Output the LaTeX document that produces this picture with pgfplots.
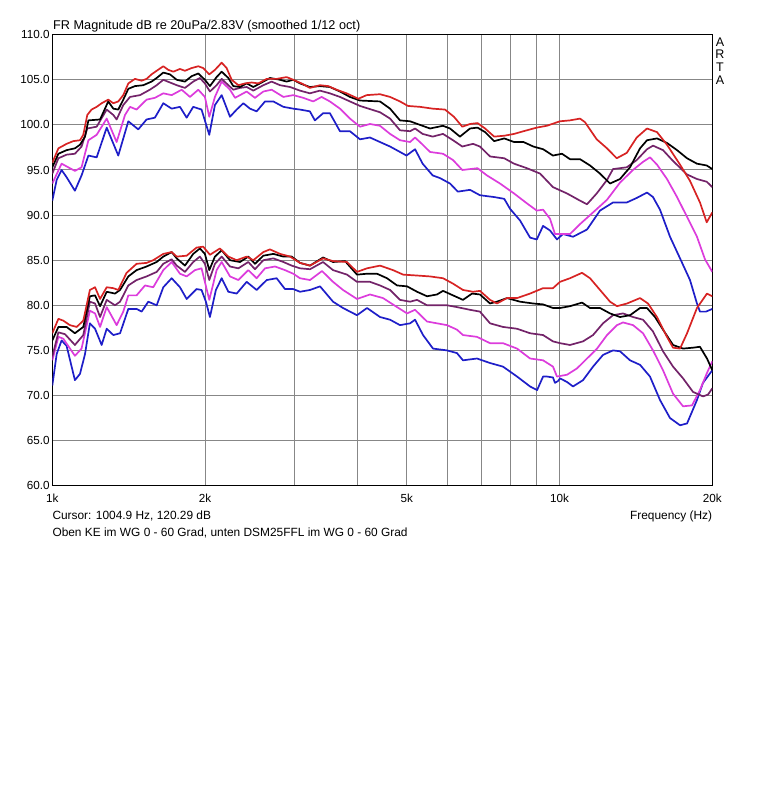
\documentclass[border=0pt]{standalone}
\usepackage{fontspec}
\setmainfont{Liberation Sans}
\usepackage{pgfplots}
\pgfplotsset{compat=1.18}
\definecolor{artared}{RGB}{215,35,35}
\definecolor{artapurple}{RGB}{115,35,105}
\definecolor{artamagenta}{RGB}{220,60,220}
\definecolor{artablue}{RGB}{30,30,200}
\definecolor{gridgray}{RGB}{135,135,135}
\begin{document}
\begin{tikzpicture}
\path[use as bounding box] (0pt,0pt) rectangle (764pt,800pt);
\begin{axis}[
  at={(52.3pt,314.3pt)}, anchor=south west,
  scale only axis, width=660pt, height=451pt,
  xmode=log, xmin=1000, xmax=20000, ymin=60, ymax=110,
  xtick={1000,2000,3000,4000,5000,6000,7000,8000,9000,10000,20000},
  xticklabels={1k,2k,,,5k,,,,,10k,20k},
  ytick={60,65,...,110},
  yticklabels={60.0,65.0,70.0,75.0,80.0,85.0,90.0,95.0,100.0,105.0,110.0},
  grid=major, major grid style={color=gridgray, line width=1pt},
  major tick length=0pt, minor tick length=0pt,
  tick label style={font=\fontsize{11.7}{13}\selectfont},
  xticklabel style={anchor=base, yshift=-17pt},
  yticklabel style={inner sep=2.5pt},
  axis line style={black, line width=0.9pt},
  every axis plot/.append style={line width=1.7pt, line join=round, mark=none},
]
% ---------- upper group (KE) ----------
\addplot[artablue] coordinates {(1000,91.6)(1020,93.9)(1043,95.0)(1067,94.2)(1108,92.7)(1142,94.4)(1178,96.6)(1223,96.4)(1280,99.7)(1349,96.6)(1412,100.4)(1477,99.5)(1534,100.6)(1593,100.8)(1655,102.4)(1719,101.8)(1785,102.0)(1840,100.8)(1896,102.0)(1969,101.7)(2039,98.9)(2092,102.2)(2157,103.3)(2240,100.9)(2309,101.7)(2380,102.4)(2453,101.8)(2528,101.5)(2626,102.6)(2727,102.6)(2854,102.0)(2985,101.8)(3077,101.7)(3219,101.5)(3293,100.5)(3420,101.3)(3525,101.3)(3690,99.3)(3861,99.3)(4041,98.4)(4229,98.6)(4425,98.1)(4632,97.6)(4846,97.0)(4990,96.6)(5188,97.3)(5370,95.7)(5620,94.4)(5811,94.1)(6081,93.5)(6300,92.6)(6659,92.8)(6966,92.2)(7430,92.0)(7780,91.8)(7985,90.7)(8356,89.4)(8745,87.5)(9015,87.3)(9276,88.8)(9572,88.3)(9881,87.3)(10153,87.9)(10630,87.6)(11324,88.4)(12012,90.5)(12742,91.4)(13563,91.4)(14190,91.9)(14868,92.5)(15278,92.0)(15771,90.6)(16505,87.6)(17274,85.2)(18072,82.8)(18655,80.2)(18910,79.3)(19434,79.3)(20000,79.6)};
\addplot[artamagenta] coordinates {(1000,93.5)(1043,95.7)(1075,95.3)(1108,94.9)(1142,95.3)(1178,98.3)(1223,98.9)(1280,100.7)(1339,98.1)(1391,101.1)(1423,102.0)(1466,101.7)(1534,102.8)(1593,103.0)(1655,103.5)(1719,103.3)(1799,103.9)(1868,103.1)(1940,103.9)(1999,103.1)(2039,100.9)(2092,103.1)(2157,104.8)(2240,103.9)(2292,103.0)(2344,103.3)(2416,103.7)(2509,103.0)(2606,103.7)(2706,103.9)(2854,103.1)(2985,103.3)(3124,103.0)(3268,102.6)(3395,103.1)(3525,102.6)(3690,101.8)(3861,100.7)(4041,99.8)(4229,100.1)(4425,99.9)(4632,99.0)(4846,98.3)(5072,98.1)(5188,98.6)(5350,97.9)(5553,97.0)(5890,96.8)(6164,96.1)(6430,95.0)(6890,95.2)(7190,94.4)(7630,93.5)(8130,92.4)(8620,91.3)(9015,90.5)(9276,90.6)(9572,89.6)(9791,87.9)(10108,87.9)(10481,87.9)(10970,89.0)(11640,90.3)(12400,91.7)(13153,93.6)(13950,95.0)(14600,95.9)(15071,96.4)(15557,95.6)(16280,94.0)(17040,92.0)(17832,89.8)(18655,87.6)(19345,85.1)(20000,83.7)};
\addplot[artapurple] coordinates {(1000,94.6)(1028,96.3)(1067,96.7)(1108,96.8)(1142,97.6)(1172,99.6)(1223,99.8)(1280,101.7)(1319,101.1)(1339,100.6)(1380,102.2)(1423,103.1)(1489,103.3)(1557,103.9)(1606,104.4)(1655,105.0)(1706,104.7)(1759,104.4)(1826,104.1)(1896,104.8)(1954,105.2)(1999,104.6)(2045,103.7)(2108,104.4)(2157,105.1)(2223,104.4)(2274,103.9)(2344,104.1)(2416,104.2)(2490,103.8)(2606,104.4)(2706,104.8)(2811,104.4)(2942,104.2)(3077,103.8)(3219,103.5)(3369,103.8)(3525,103.5)(3690,103.1)(3861,102.6)(4041,102.1)(4425,101.4)(4632,100.7)(4846,99.4)(5072,99.3)(5188,99.6)(5370,99.0)(5620,98.7)(5890,99.0)(6164,98.3)(6430,97.6)(6750,97.9)(6966,97.6)(7292,96.5)(7780,96.3)(8130,95.7)(8620,95.2)(9151,94.6)(9703,93.1)(10340,92.4)(10970,91.6)(11324,91.2)(11833,92.4)(12400,93.9)(12742,95.1)(13563,95.3)(14190,96.1)(14868,97.3)(15278,97.7)(15987,97.2)(16733,96.0)(17832,94.5)(18655,94.0)(19497,93.7)(20000,93.1)};
\addplot[black] coordinates {(1000,95.3)(1028,96.8)(1067,97.2)(1108,97.4)(1134,97.8)(1160,98.7)(1178,100.5)(1242,100.6)(1289,102.6)(1319,101.8)(1349,101.7)(1380,102.8)(1412,104.0)(1455,104.3)(1511,104.4)(1569,104.8)(1606,105.2)(1655,105.8)(1706,105.6)(1759,105.0)(1826,104.8)(1882,105.4)(1940,105.7)(1999,105.0)(2045,104.3)(2108,105.3)(2157,105.9)(2223,105.2)(2274,104.3)(2344,104.2)(2416,104.6)(2490,104.2)(2567,104.6)(2685,105.2)(2811,105.0)(2897,104.8)(2985,105.0)(3077,104.6)(3219,104.2)(3369,104.3)(3525,104.2)(3690,103.7)(3861,103.1)(4041,102.7)(4425,102.6)(4632,101.8)(4846,100.5)(5072,100.4)(5307,100.0)(5553,99.6)(5890,99.9)(6081,99.6)(6361,98.7)(6659,99.6)(6890,99.7)(7130,99.2)(7430,98.2)(7780,98.5)(8130,98.1)(8490,98.1)(8875,97.6)(9280,97.3)(9700,96.6)(10108,96.8)(10481,96.2)(10970,96.2)(11480,95.5)(12012,94.6)(12570,93.5)(13153,94.0)(13765,95.3)(14405,97.4)(14870,98.3)(15560,98.5)(16280,98.0)(17040,97.2)(17830,96.3)(18650,95.7)(19500,95.5)(20000,95.1)};
\addplot[artared] coordinates {(1000,95.8)(1028,97.4)(1067,97.9)(1100,98.2)(1134,98.3)(1151,98.9)(1172,101.1)(1195,101.7)(1223,102.0)(1251,102.4)(1289,102.8)(1319,102.4)(1349,102.6)(1380,103.3)(1412,104.6)(1455,105.1)(1500,104.9)(1534,105.1)(1569,105.6)(1606,106.0)(1655,106.5)(1693,106.1)(1732,105.9)(1785,106.2)(1826,106.0)(1882,106.3)(1940,106.5)(1984,106.3)(2039,105.6)(2092,106.1)(2157,106.9)(2206,106.3)(2257,105.0)(2327,104.4)(2398,104.6)(2471,104.7)(2547,104.6)(2646,105.1)(2768,105.1)(2897,105.3)(2985,105.0)(3100,104.6)(3219,104.1)(3369,104.4)(3499,104.3)(3634,103.9)(3803,103.5)(4011,102.9)(4165,103.3)(4425,103.4)(4632,103.1)(4846,102.6)(5025,102.1)(5307,102.0)(5620,101.8)(5944,101.7)(6190,100.9)(6430,99.8)(6659,100.1)(6890,100.2)(7130,99.6)(7430,98.7)(7780,98.8)(8130,99.0)(8490,99.3)(9015,99.7)(9432,99.9)(10016,100.4)(10481,100.5)(10970,100.7)(11220,100.3)(11833,98.4)(12400,97.4)(12958,96.3)(13563,96.9)(14190,98.6)(14868,99.6)(15557,99.2)(16280,97.8)(17270,95.6)(18070,93.8)(18910,91.4)(19497,89.2)(20000,90.3)};
% ---------- lower group (DSM25FFL) ----------
\addplot[artablue] coordinates {(1000,71.1)(1020,74.6)(1043,76.1)(1067,75.5)(1108,71.7)(1134,72.4)(1160,74.6)(1186,78.0)(1214,77.4)(1251,75.6)(1280,77.4)(1319,76.7)(1360,76.9)(1412,79.6)(1466,79.6)(1500,79.3)(1546,80.4)(1606,80.0)(1655,82.0)(1719,83.0)(1785,82.0)(1840,80.7)(1925,81.8)(1969,81.7)(2008,80.4)(2045,78.7)(2101,81.7)(2157,83.0)(2223,81.5)(2309,81.3)(2416,82.6)(2528,81.7)(2646,82.8)(2768,83.0)(2875,81.8)(2985,81.8)(3078,81.5)(3221,81.7)(3371,82.1)(3576,80.4)(3741,79.7)(3987,78.9)(4172,79.7)(4426,78.7)(4632,78.4)(4846,77.8)(5072,78.0)(5188,78.4)(5380,76.7)(5629,75.2)(5998,75.0)(6275,74.7)(6449,73.9)(6873,74.1)(7292,73.6)(7734,73.2)(8243,72.1)(8745,71.0)(9028,70.6)(9276,72.1)(9443,72.1)(9703,72.0)(9791,71.4)(9925,71.6)(10016,71.9)(10339,71.5)(10626,71.0)(11120,71.7)(11637,73.2)(12177,74.5)(12742,75.0)(13153,74.9)(13765,73.9)(14405,73.4)(15071,72.1)(15771,69.5)(16505,67.5)(17274,66.7)(17832,66.9)(18655,69.5)(19170,71.4)(20000,72.8)};
\addplot[artamagenta] coordinates {(1000,73.9)(1028,76.5)(1051,76.3)(1108,74.4)(1142,75.2)(1186,79.4)(1214,79.1)(1242,77.6)(1280,79.8)(1339,77.8)(1380,79.3)(1412,81.1)(1466,81.1)(1523,82.2)(1581,82.0)(1655,83.9)(1719,84.8)(1785,83.5)(1840,83.2)(1911,83.9)(1969,84.1)(2039,80.6)(2108,83.9)(2157,84.8)(2240,83.2)(2327,82.8)(2434,83.9)(2528,83.0)(2626,84.1)(2748,84.3)(2875,83.9)(2985,83.5)(3078,83.0)(3221,82.8)(3401,83.8)(3576,82.6)(3741,81.7)(3987,80.7)(4229,81.2)(4486,80.8)(4781,79.8)(5004,79.1)(5188,79.5)(5478,78.2)(5733,78.0)(5998,77.8)(6275,77.3)(6449,76.7)(6873,76.5)(7292,75.8)(7734,75.8)(8243,75.2)(8745,74.1)(9276,73.9)(9703,73.2)(9881,72.1)(10339,72.3)(10820,73.0)(11324,74.1)(11850,75.2)(12400,76.7)(12976,77.8)(13334,78.1)(13954,77.8)(14602,76.9)(15278,75.0)(15987,72.8)(16733,70.2)(17510,68.8)(18237,68.9)(18910,70.6)(19524,72.5)(20000,73.8)};
\addplot[artapurple] coordinates {(1000,74.3)(1028,77.0)(1059,76.8)(1108,75.6)(1151,76.7)(1186,80.4)(1214,80.2)(1242,78.7)(1280,80.6)(1329,80.0)(1360,80.4)(1412,82.2)(1466,82.8)(1534,83.2)(1606,83.7)(1655,84.6)(1719,85.1)(1759,84.4)(1826,83.7)(1896,84.8)(1954,85.4)(1999,84.6)(2039,82.8)(2092,84.6)(2157,85.4)(2240,84.3)(2327,84.1)(2434,84.8)(2509,84.0)(2606,85.0)(2727,85.2)(2854,84.8)(2964,84.4)(3078,84.1)(3221,84.0)(3417,84.8)(3576,83.9)(3810,83.4)(3987,82.6)(4229,82.6)(4426,82.2)(4632,81.7)(4846,80.6)(5072,80.4)(5236,80.6)(5478,80.0)(5733,80.0)(5998,80.0)(6275,79.8)(6659,79.5)(6966,79.3)(7292,78.0)(7734,77.6)(8243,77.4)(8745,76.9)(9276,76.7)(9703,76.0)(10016,75.8)(10481,75.6)(11120,76.0)(11637,76.7)(12177,78.0)(12742,78.9)(13334,79.1)(13954,78.7)(14602,78.4)(15278,77.1)(15987,74.9)(16733,73.2)(17510,71.9)(18320,70.4)(19170,69.9)(19614,70.1)(20000,70.8)};
\addplot[black] coordinates {(1000,76.1)(1028,77.6)(1067,77.6)(1108,76.9)(1151,77.6)(1186,81.0)(1214,81.1)(1242,79.9)(1280,81.5)(1329,81.3)(1360,81.7)(1412,83.2)(1466,83.9)(1534,84.3)(1606,84.8)(1655,85.4)(1719,85.9)(1759,85.2)(1826,84.4)(1896,85.7)(1954,86.3)(1999,85.7)(2039,83.9)(2092,85.4)(2157,86.1)(2240,85.0)(2344,84.8)(2434,85.4)(2509,84.6)(2606,85.5)(2727,85.7)(2854,85.4)(2964,85.4)(3078,84.7)(3221,84.4)(3417,85.3)(3576,84.8)(3776,84.9)(3987,83.4)(4172,83.5)(4365,83.5)(4568,83.0)(4781,82.2)(5004,82.1)(5236,81.5)(5478,81.0)(5733,81.2)(5891,81.6)(6164,81.1)(6449,80.6)(6720,81.3)(6966,81.2)(7292,80.2)(7525,80.4)(7876,80.8)(8356,80.4)(8865,80.2)(9276,80.1)(9703,79.7)(10016,79.7)(10481,79.9)(11070,80.3)(11479,79.7)(12012,79.7)(12570,79.1)(13153,78.7)(13765,78.9)(14405,79.7)(14868,79.7)(15417,78.7)(15987,77.3)(16733,75.6)(17510,75.2)(18320,75.3)(18910,75.4)(19524,74.1)(20000,72.8)};
\addplot[artared] coordinates {(1000,76.9)(1028,78.5)(1051,78.3)(1083,77.8)(1117,77.6)(1151,78.3)(1186,81.7)(1214,82.0)(1242,80.7)(1280,82.0)(1319,81.9)(1349,81.7)(1401,83.6)(1466,84.6)(1534,84.7)(1581,85.0)(1655,85.7)(1719,85.9)(1759,85.4)(1840,85.5)(1925,86.4)(1984,86.5)(2045,85.6)(2140,86.3)(2223,85.4)(2309,85.0)(2416,85.4)(2490,85.0)(2606,85.9)(2685,86.2)(2811,85.7)(2942,85.4)(3078,84.7)(3221,84.4)(3417,85.2)(3576,84.9)(3810,84.8)(3987,83.7)(4172,84.1)(4426,84.4)(4694,83.9)(4915,83.4)(5236,83.3)(5553,83.2)(5891,83.0)(6164,82.4)(6449,81.7)(6750,81.5)(6966,81.6)(7292,80.6)(7525,80.2)(7876,80.8)(8243,80.8)(8745,81.3)(9276,81.9)(9703,81.9)(10016,82.6)(10481,83.0)(11070,83.6)(11479,83.0)(12012,81.7)(12570,80.4)(12976,79.9)(13579,80.2)(14405,80.8)(14935,80.2)(15557,78.7)(16280,76.5)(16733,75.3)(17274,75.2)(17832,76.9)(18655,79.7)(19524,81.3)(20000,81.0)};
\end{axis}
% ---------- texts around the plot ----------
\node[anchor=base west, inner sep=0pt, font=\fontsize{12.7}{14}\selectfont] at (53pt,770.5pt) {FR Magnitude dB re 20uPa/2.83V (smoothed 1/12 oct)};
\node[anchor=base, inner sep=0pt, font=\fontsize{12.5}{14}\selectfont] at (720pt,753.3pt) {A};
\node[anchor=base, inner sep=0pt, font=\fontsize{12.5}{14}\selectfont] at (720pt,741.3pt) {R};
\node[anchor=base, inner sep=0pt, font=\fontsize{12.5}{14}\selectfont] at (720pt,728.3pt) {T};
\node[anchor=base, inner sep=0pt, font=\fontsize{12.5}{14}\selectfont] at (720pt,715.0pt) {A};
\node[anchor=base west, inner sep=0pt, font=\fontsize{11.9}{13}\selectfont] at (52.3pt,280pt) {Cursor: 1004.9 Hz, 120.29 dB};
\node[anchor=base west, inner sep=0pt, font=\fontsize{11.9}{13}\selectfont] at (52.3pt,263.3pt) {Oben KE im WG 0 - 60 Grad, unten DSM25FFL im WG 0 - 60 Grad};
\node[anchor=base east, inner sep=0pt, font=\fontsize{11.9}{13}\selectfont] at (712.3pt,280.5pt) {Frequency (Hz)};
\end{tikzpicture}
\end{document}
